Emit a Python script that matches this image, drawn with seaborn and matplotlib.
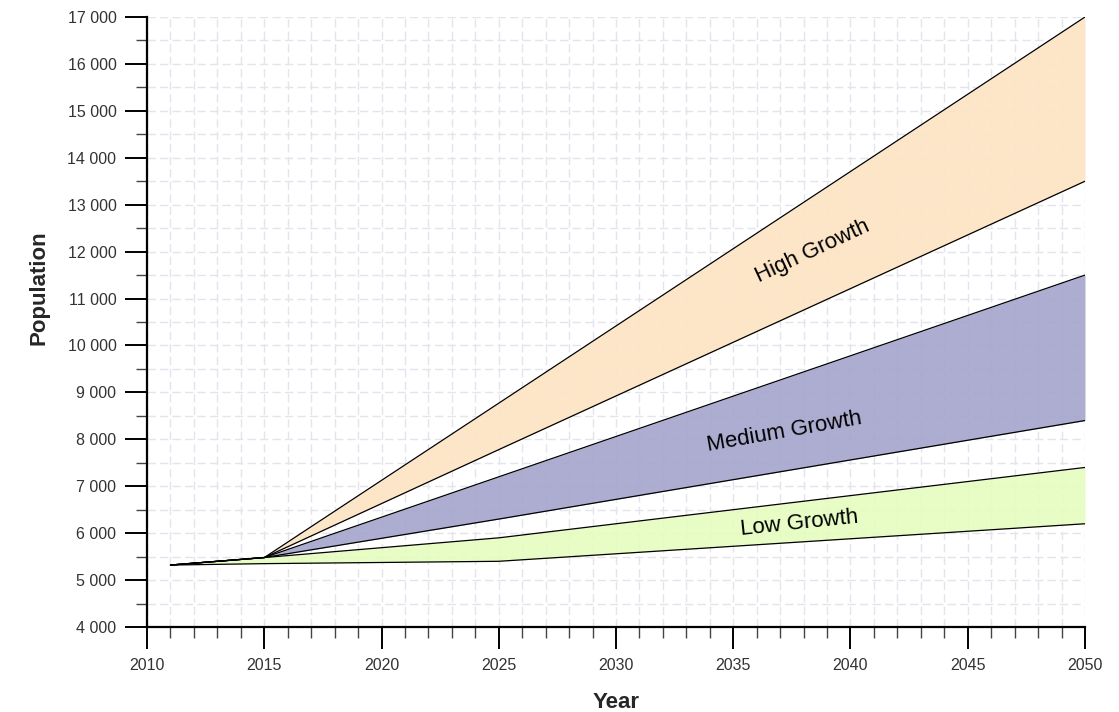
"""Population growth scenarios, drawn as shaded bands."""

import matplotlib
matplotlib.use("Agg")
import matplotlib.pyplot as plt
import matplotlib.ticker as mticker
import numpy as np
import pandas as pd
import seaborn as sns

# Years at which the scenario curves are known
years = [2011, 2015, 2025, 2050]

# Band edges for each scenario (lower, upper)
low_lower = [5320, 5350, 5400, 6200]
low_upper = [5320, 5480, 5900, 7400]
medium_lower = [5320, 5480, 6300, 8400]
medium_upper = [5320, 5480, 7200, 11500]
high_lower = [5320, 5480, 7780, 13500]
high_upper = [5320, 5480, 8770, 17000]

scenarios = ["Low Growth", "Medium Growth", "High Growth"]
fill_colors = ["#e6fcc0", "#a6a6ce", "#fde4c4"]
label_pos = [(2037.8, 6200, 6), (2037.2, 8150, 10), (2038.4, 12000, 25)]

sns.set_theme(style="white")
plt.rcParams["font.family"] = ["Liberation Sans", "DejaVu Sans"]

df = pd.DataFrame({
    "year": years,
    "low_lower": low_lower, "low_upper": low_upper,
    "medium_lower": medium_lower, "medium_upper": medium_upper,
    "high_lower": high_lower, "high_upper": high_upper,
})

fig = plt.figure(figsize=(11.19, 7.12), dpi=100)
ax = fig.add_axes([0.1314, 0.1194, 0.8382, 0.8567])

bands = [("low_lower", "low_upper"), ("medium_lower", "medium_upper"),
         ("high_lower", "high_upper")]
for (lo, hi), color in zip(bands, fill_colors):
    ax.fill_between(df["year"], df[lo], df[hi], color=color, alpha=0.92,
                    linewidth=0, zorder=2)
    for col in (lo, hi):
        sns.lineplot(data=df, x="year", y=col, ax=ax, color="black",
                     linewidth=0.9, zorder=3)

for name, (x, y, rot) in zip(scenarios, label_pos):
    ax.text(x, y, name, rotation=rot, ha="center", va="center",
            fontsize=16, color="black", zorder=4)

ax.set_xlim(2010, 2050)
ax.set_ylim(4000, 17000)
ax.xaxis.set_major_locator(mticker.MultipleLocator(5))
ax.xaxis.set_minor_locator(mticker.MultipleLocator(1))
ax.yaxis.set_major_locator(mticker.MultipleLocator(1000))
ax.yaxis.set_minor_locator(mticker.MultipleLocator(500))
ax.yaxis.set_major_formatter(
    mticker.FuncFormatter(lambda v, _: f"{int(v):,}".replace(",", " ")))

ax.grid(which="both", color="#e4e4ec", linestyle=(0, (6, 3)), linewidth=1.0,
        zorder=1)
ax.set_axisbelow(True)

for side in ("top", "right"):
    ax.spines[side].set_visible(False)
for side in ("left", "bottom"):
    ax.spines[side].set_color("black")
    ax.spines[side].set_linewidth(1.6)

ax.tick_params(which="major", direction="out", length=16, width=1.4,
               color="black", labelsize=11.5, labelcolor="#333333", pad=6,
               left=True, bottom=True)
ax.tick_params(which="minor", direction="out", length=8, width=1.0,
               color="#444444", left=True, bottom=True)

ax.set_xlabel("Year", fontsize=16, fontweight="bold", labelpad=14)
ax.set_ylabel("Population", fontsize=16, fontweight="bold", labelpad=13,
              y=0.557)

fig.savefig("out.png", dpi=100)
